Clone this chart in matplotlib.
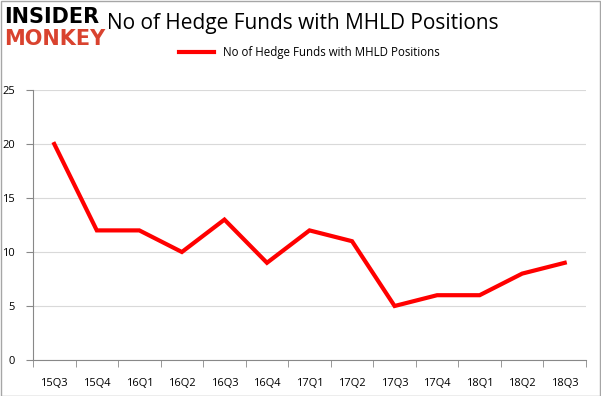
import matplotlib
matplotlib.use("Agg")
import matplotlib.pyplot as plt
from matplotlib.patches import Rectangle

quarters = ["15Q3", "15Q4", "16Q1", "16Q2", "16Q3", "16Q4", "17Q1", "17Q2",
            "17Q3", "17Q4", "18Q1", "18Q2", "18Q3"]
funds = [20, 12, 12, 10, 13, 9, 12, 11, 5, 6, 6, 8, 9]
yticks = [0, 5, 10, 15, 20, 25]
series_label = "No of Hedge Funds with MHLD Positions"
title = "No of Hedge Funds with MHLD Positions"

plt.rcParams['font.family'] = ['Open Sans', 'DejaVu Sans']
W, H = 601, 396
fig = plt.figure(figsize=(W/100, H/100), dpi=100)
ax = fig.add_axes([33/W, 1-360/H, (586-33)/W, (360-90)/H])

x = list(range(len(quarters)))
ax.plot(x, funds, color="#ff0000", lw=3, label=series_label, solid_joinstyle="miter")
ax.set_xlim(-0.5, len(quarters)-0.5)
ax.set_ylim(0, 25)
ax.set_yticks(yticks)
ax.set_xticks(x)
ax.set_xticklabels(quarters, fontsize=8)
ax.tick_params(axis='x', length=0, pad=13)
ax.set_xticks([i-0.5 for i in range(len(quarters)+1)], minor=True)
ax.tick_params(axis='x', which='minor', length=5, direction='out', color="#888888")
ax.tick_params(axis='y', labelsize=8, length=5, direction='out', color="#888888", pad=8)
ax.grid(axis='y', color="#d9d9d9", lw=0.8)
ax.set_axisbelow(True)
for s in ["top", "right"]:
    ax.spines[s].set_visible(False)
for s in ["left", "bottom"]:
    ax.spines[s].set_color("#888888")

ax.legend(loc="upper center", bbox_to_anchor=(0.5, 1.2), frameon=False,
          fontsize=8.3, handlelength=3)

fig.text(303/W, 1-24/H, title, ha="center", va="center", fontsize=15, zorder=1)

# figure border
fig.patches.append(Rectangle((0.5/W, 0.5/H), 1-1.5/W, 1-1.5/H, transform=fig.transFigure,
                             fill=False, edgecolor="#a6a6a6", lw=1))

# logo
fig.text(4/W, 1-17/H, "INSIDER", fontsize=15, fontweight="bold", color="black",
         va="center", ha="left", family="DejaVu Sans", zorder=5,
         bbox=dict(facecolor="white", edgecolor="none", pad=1))
fig.text(4/W, 1-39/H, "MONKEY", fontsize=15, fontweight="bold", color="#d9432f",
         va="center", ha="left", family="DejaVu Sans", zorder=5)

fig.savefig("out.png", dpi=100)
